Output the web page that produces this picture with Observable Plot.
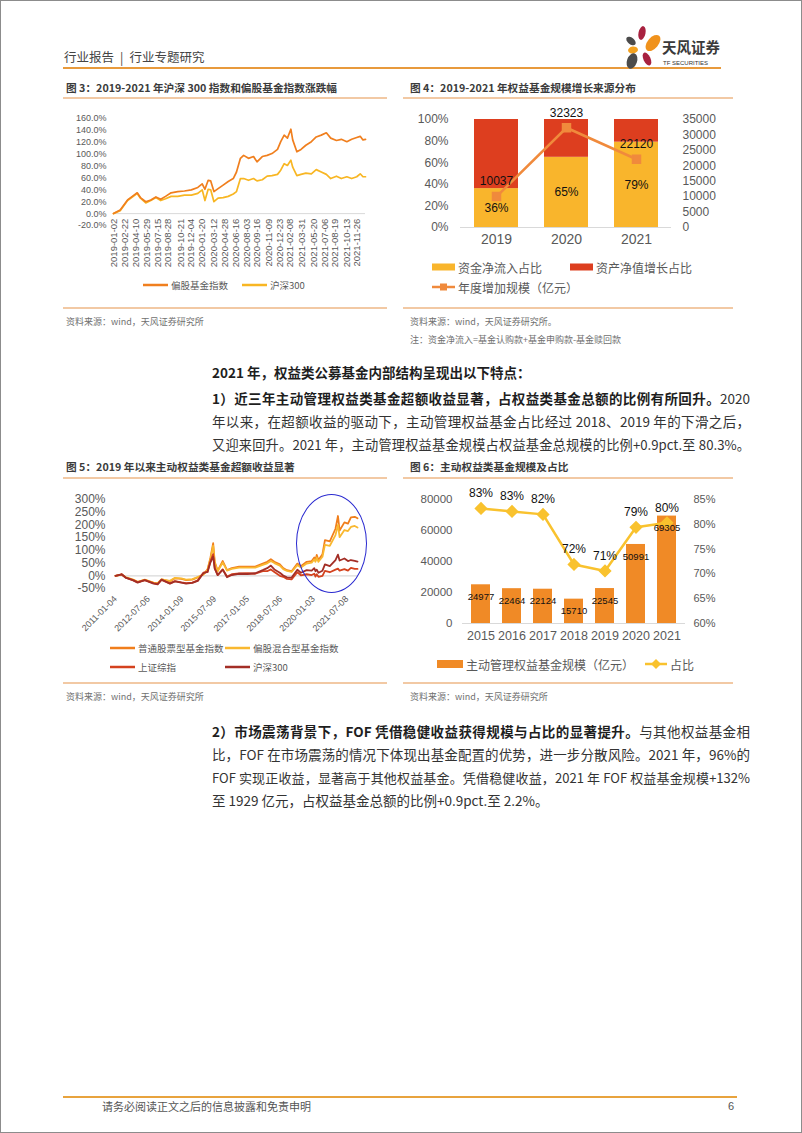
<!DOCTYPE html>
<html><head><meta charset="utf-8">
<script src="https://cdn.jsdelivr.net/npm/d3@7"></script>
<script src="https://cdn.jsdelivr.net/npm/@observablehq/plot@0.6"></script>
<style>
body{margin:0;background:#fff;}
#page{position:relative;width:802px;height:1133px;overflow:hidden;font-family:"Noto Sans CJK SC","Noto Sans",sans-serif;color:#333;background:#fff;}
#frame{position:absolute;left:0;top:0;width:802px;height:1133px;box-sizing:border-box;border:1px solid #8c8c8c;pointer-events:none;}
.abs{position:absolute;white-space:nowrap;}
.leg{position:absolute;display:flex;align-items:center;white-space:nowrap;color:#595959;height:20px;}
.bl{position:absolute;left:212px;width:538px;font-size:13.5px;line-height:23px;white-space:nowrap;color:#333;text-align:left;font-family:"Liberation Sans Narrow","Noto Sans CJK SC",sans-serif;}
.bl.j{text-align:justify;text-align-last:justify;}
.bl b{font-weight:700;color:#1e1e1e;}
.chart{position:absolute;}
.chart svg{overflow:visible;}
</style></head>
<body><div id="page"><div id="frame"></div></div>
<script>
// ---------------- DATA ----------------
// Fig 3: 2019-2021 CSI300 vs equity fund index cumulative change (%)
const c3Dates = ["2019-01-02","2019-01-31","2019-03-04","2019-04-01","2019-04-15","2019-04-29","2019-05-22","2019-06-13","2019-07-05","2019-07-26","2019-08-16","2019-09-09","2019-10-08","2019-11-06","2019-12-06","2020-01-03","2020-01-22","2020-02-03","2020-02-17","2020-02-28","2020-03-13","2020-03-31","2020-04-22","2020-05-14","2020-06-05","2020-06-19","2020-07-06","2020-07-20","2020-08-10","2020-09-01","2020-09-16","2020-10-09","2020-10-30","2020-11-20","2020-12-14","2020-12-28","2021-01-12","2021-01-26","2021-02-10","2021-02-18","2021-03-08","2021-03-26","2021-04-16","2021-05-10","2021-05-31","2021-06-22","2021-07-14","2021-08-02","2021-08-27","2021-09-17","2021-10-11","2021-11-01","2021-11-23","2021-12-08","2021-12-20","2021-12-31"];
const c3Fund = [0,6,23,31,35,27,20,23,28,24,29,35,37,38,40,44,50,41,56,55,37,42,48,54,59,70,93,98,93,96,87,96,98,101,108,121,132,127,142,124,104,108,115,121,129,132,136,127,123,125,121,125,128,130,124,125];
const c3HS300 = [0,5,22,30,34,26,18,22,27,22,25,29,29,31,31,34,40,22,41,40,20,26,27,29,33,37,59,59,56,59,55,57,63,64,66,73,84,81,90,78,64,66,68,67,74,70,66,59,63,59,62,59,62,67,62,62];
const c3TickLabels = ["2019-01-02","2019-02-22","2019-04-10","2019-05-29","2019-07-15","2019-08-28","2019-10-21","2019-12-04","2020-01-20","2020-03-12","2020-04-28","2020-06-16","2020-08-03","2020-09-16","2020-11-09","2020-12-23","2021-02-08","2021-03-31","2021-05-20","2021-07-06","2021-08-19","2021-10-13","2021-11-26"];
const c3YTicks = [-20,0,20,40,60,80,100,120,140,160];

// Fig 4: sources of equity fund growth
const c4Years = ["2019","2020","2021"];
const c4InflowPct = [36,65,79];
const c4NavPct = [64,35,21];
const c4Growth = [10037,32323,22120];
const c4LeftTicks = [0,20,40,60,80,100];
const c4RightTicks = [0,5000,10000,15000,20000,25000,30000,35000];
const c4RightMax = 35000;

// Fig 5: excess returns since 2011 (%)
const c5Dates = ["2011-01-04","2011-04-15","2011-06-20","2011-10-24","2012-01-06","2012-05-04","2012-09-26","2012-12-03","2013-02-06","2013-06-25","2013-09-16","2013-12-31","2014-03-20","2014-07-01","2014-09-30","2014-12-31","2015-03-10","2015-04-27","2015-06-12","2015-07-08","2015-08-26","2015-11-18","2016-01-28","2016-04-15","2016-08-15","2016-12-30","2017-05-10","2017-09-11","2017-11-24","2018-01-24","2018-03-23","2018-06-22","2018-08-17","2018-10-18","2019-01-03","2019-04-08","2019-06-06","2019-09-10","2019-12-02","2020-01-14","2020-02-03","2020-02-24","2020-03-23","2020-05-29","2020-07-09","2020-09-28","2020-12-31","2021-02-10","2021-03-09","2021-05-28","2021-07-26","2021-09-13","2021-11-15","2021-12-31"];
const c5Stock = [0,5,-6,-16,-25,-16,-28,-30,-14,-22,-10,-12,-17,-15,-6,5,25,70,128,55,20,58,22,30,36,36,36,48,55,65,55,45,30,22,18,48,38,55,58,72,62,82,62,85,140,135,185,235,178,210,205,230,232,226];
const c5Mixed = [0,5,-5,-15,-24,-15,-27,-29,-14,-20,-8,-10,-15,-13,-5,5,22,65,118,50,18,52,20,27,32,32,32,43,49,58,50,40,26,19,15,42,33,48,52,64,55,72,55,75,122,118,160,200,152,180,176,192,196,190];
const c5SSE = [0,6,-7,-17,-25,-17,-29,-32,-16,-30,-21,-26,-29,-27,-18,12,15,57,85,30,3,25,-3,6,9,10,8,18,18,25,15,0,-4,-12,-14,14,2,6,3,8,-3,6,-4,0,19,14,24,28,20,26,20,31,27,27];
const c5HS300 = [0,6,-7,-18,-27,-17,-31,-34,-15,-31,-22,-27,-31,-28,-20,10,15,52,75,28,3,24,-6,3,8,7,10,22,30,40,25,12,1,-6,-7,24,12,22,20,30,18,24,12,20,45,38,62,83,60,68,58,62,59,56];
const c5Ticks = ["2011-01-04","2012-07-06","2014-01-09","2015-07-09","2017-01-05","2018-07-06","2020-01-03","2021-07-08"];
const c5YTicks = [-50,0,50,100,150,200,250,300];

// Fig 6: active equity fund size and share
const c6Years = ["2015","2016","2017","2018","2019","2020","2021"];
const c6Size = [24977,22464,22124,15710,22545,50991,69305];
const c6Share = [83.2,82.6,82.0,71.9,70.6,79.4,80.3];
const c6ShareLabels = ["83%","83%","82%","72%","71%","79%","80%"];
const c6LeftTicks = [0,20000,40000,60000,80000];
const c6RightTicks = [60,65,70,75,80,85];

// ---------------- helpers ----------------
const page = document.getElementById("page");
const NUM = "'Liberation Sans', Arial, sans-serif";
function el(html, left, top, style) {
  const d = document.createElement("div");
  d.className = "abs";
  d.style.cssText = `left:${left}px;top:${top}px;` + (style || "");
  d.innerHTML = html; page.appendChild(d); return d;
}
function textAt(html, x, yc, size, style) {
  return el(html, x, yc - size * 0.75, `font-size:${size}px;line-height:${size * 1.5}px;` + (style || ""));
}
function hline(x1, x2, y, color, w) {
  const d = document.createElement("div");
  d.style.cssText = `position:absolute;left:${x1}px;top:${y - w / 2}px;width:${x2 - x1}px;height:${w}px;background:${color};`;
  page.appendChild(d);
}
function mount(node, left, top) {
  const d = document.createElement("div");
  d.className = "chart"; d.style.left = left + "px"; d.style.top = top + "px";
  d.appendChild(node); page.appendChild(d);
}
function legend(x, yc, sw, text, size) {
  const d = document.createElement("div");
  d.className = "leg";
  d.style.cssText = `left:${x}px;top:${yc - 10}px;font-size:${size}px;`;
  d.innerHTML = sw + `<span style="margin-left:3px">${text}</span>`;
  page.appendChild(d);
}
const lineSw = (c, w, sw) => `<svg width="${w}" height="10"><line x1="0" x2="${w}" y1="5" y2="5" stroke="${c}" stroke-width="${sw}"/></svg>`;
const rectSw = (c, w, h) => `<svg width="${w}" height="10"><rect x="0" y="${5 - h / 2}" width="${w}" height="${h}" fill="${c}"/></svg>`;

// ---------------- header / footer ----------------
textAt('行业报告<span style="margin:0 6px">|</span>行业专题研究', 64, 57, 12.5, "color:#444;");
hline(63, 721, 68, "#E89A3C", 2);
el(`<svg width="42" height="48" viewBox="0 0 42 48">
<ellipse cx="22" cy="10" rx="3.5" ry="7" transform="rotate(12 22 10)" fill="#A8213F"/>
<ellipse cx="11" cy="18" rx="3.3" ry="5.5" transform="rotate(-50 11 18)" fill="#4B4B4B"/>
<ellipse cx="33" cy="20" rx="5.5" ry="9.5" transform="rotate(40 33 20)" fill="#F0921C"/>
<ellipse cx="13" cy="27" rx="5" ry="3.5" transform="rotate(-10 13 27)" fill="#F3A11F"/>
<ellipse cx="12" cy="38" rx="5" ry="8" transform="rotate(20 12 38)" fill="#4B4B4B"/>
<ellipse cx="27" cy="36" rx="3.5" ry="7" transform="rotate(-25 27 36)" fill="#A8213F"/>
</svg>`, 620, 23);
textAt("天风证券", 662, 47, 14.5, "font-weight:700;color:#3a3a3a;");
textAt("TF SECURITIES", 663, 63, 6, "color:#333;font-family:" + NUM + ";");
hline(63, 737, 1097, "#E8A33D", 2);
textAt("请务必阅读正文之后的信息披露和免责申明", 102, 1106, 11, "color:#555;");
textAt("6", 728, 1106, 11, "color:#555;font-family:" + NUM + ";");

// section frames
const SEP = "#F2C9A4";
const TITLE = "font-weight:700;color:#3b3b3b;";
textAt("图 3：2019-2021 年沪深 300 指数和偏股基金指数涨跌幅", 66, 88, 10.7, TITLE);
textAt("图 4：2019-2021 年权益基金规模增长来源分布", 410, 88, 10.7, TITLE);
hline(63, 387, 98, SEP, 1.3); hline(403, 733, 98, SEP, 1.3);
hline(63, 387, 308, SEP, 1.3); hline(403, 733, 308, SEP, 1.3);
textAt("资料来源：wind，天风证券研究所", 66, 322, 9, "color:#707070;");
textAt("资料来源：wind，天风证券研究所。", 410, 322, 9, "color:#707070;");
textAt("注：资金净流入=基金认购款+基金申购款-基金赎回款", 410, 340, 9, "color:#707070;");

textAt("图 5：2019 年以来主动权益类基金超额收益显著", 66, 467, 10.7, TITLE);
textAt("图 6：主动权益类基金规模及占比", 410, 467, 10.7, TITLE);
hline(63, 387, 478, SEP, 1.3); hline(403, 733, 478, SEP, 1.3);
hline(63, 387, 683, SEP, 1.3); hline(403, 733, 683, SEP, 1.3);
textAt("资料来源：wind，天风证券研究所", 66, 697, 9, "color:#707070;");
textAt("资料来源：wind，天风证券研究所", 410, 697, 9, "color:#707070;");

// body text: measure natural width first, shrink to fit, then justify
function bodyLine(html, yc, just) {
  const d = document.createElement("div");
  d.className = "bl";
  d.style.top = (yc - 11.5) + "px";
  d.innerHTML = `<span class="m">${html}</span>`;
  page.appendChild(d);
  const span = d.querySelector(".m");
  let fs = 13.5;
  while (span.getBoundingClientRect().width > 534 && fs > 10) { fs -= 0.1; d.style.fontSize = fs + "px"; }
  if (just) d.className = "bl j";
}
bodyLine("<b>2021 年，权益类公募基金内部结构呈现出以下特点：</b>", 372, false);
bodyLine("<b>1）近三年主动管理权益类基金超额收益显著，占权益类基金总额的比例有所回升。</b>2020", 398, true);
bodyLine("年以来，在超额收益的驱动下，主动管理权益基金占比经过 2018、2019 年的下滑之后，", 421, true);
bodyLine("又迎来回升。2021 年，主动管理权益基金规模占权益基金总规模的比例+0.9pct.至 80.3%。", 444, true);
bodyLine("<b>2）市场震荡背景下，FOF 凭借稳健收益获得规模与占比的显著提升。</b>与其他权益基金相", 731, true);
bodyLine("比，FOF 在市场震荡的情况下体现出基金配置的优势，进一步分散风险。2021 年，96%的", 754, true);
bodyLine("FOF 实现正收益，显著高于其他权益基金。凭借稳健收益，2021 年 FOF 权益基金规模+132%", 777, true);
bodyLine("至 1929 亿元，占权益基金总额的比例+0.9pct.至 2.2%。", 800, false);

// ---------------- Chart 3 ----------------
const c3Data = c3Dates.map((d, i) => ({date: new Date(d), fund: c3Fund[i], hs: c3HS300[i]}));
mount(Plot.plot({
  width: 325, height: 165, marginTop: 10, marginBottom: 48, marginLeft: 50, marginRight: 23,
  style: {fontFamily: NUM, fontSize: "9px", color: "#595959", background: "transparent"},
  x: {type: "utc", domain: [new Date("2019-01-02"), new Date("2021-12-31")], axis: null},
  y: {domain: [-20, 160]},
  marks: [
    Plot.ruleY([0], {stroke: "#D9D9D9"}),
    Plot.axisY(c3YTicks, {tickSize: 0, tickPadding: 7, tickFormat: d => d.toFixed(1) + "%", label: null, fontSize: 9}),
    Plot.lineY(c3Data, {x: "date", y: "hs", stroke: "#F8B623", strokeWidth: 1.7}),
    Plot.lineY(c3Data, {x: "date", y: "fund", stroke: "#F07F1E", strokeWidth: 1.7}),
    Plot.text(c3TickLabels, {x: d => new Date(d), y: () => 0, text: d => d, rotate: -90, textAnchor: "end", dy: 5, fontSize: 9.5, fill: "#595959"})
  ]
}), 63, 108);
legend(143, 285, lineSw("#F07F1E", 25, 2.5), "偏股基金指数", 9.5);
legend(242, 285, lineSw("#F8B623", 25, 2.5), "沪深300", 9.5);

// ---------------- Chart 4 ----------------
const c4Bars = c4Years.flatMap((y, i) => [
  {year: y, key: "资金净流入占比", v: c4InflowPct[i]},
  {year: y, key: "资产净值增长占比", v: c4NavPct[i]}
]);
const c4Line = c4Years.map((y, i) => ({year: y, g: c4Growth[i], pct: c4InflowPct[i]}));
const c4y = d => d.g / c4RightMax * 100;
mount(Plot.plot({
  width: 340, height: 144, marginTop: 11, marginBottom: 25, marginLeft: 60, marginRight: 69,
  style: {fontFamily: NUM, fontSize: "12px", color: "#595959", background: "transparent"},
  x: {type: "band", domain: c4Years, paddingInner: 0.376, paddingOuter: 0.188},
  y: {domain: [0, 100]},
  color: {domain: ["资金净流入占比", "资产净值增长占比"], range: ["#F9B52C", "#DD3E1F"]},
  marks: [
    Plot.barY(c4Bars, {x: "year", y: "v", fill: "key"}),
    Plot.ruleY([0], {stroke: "#D9D9D9"}),
    Plot.axisY(c4LeftTicks, {tickSize: 0, tickPadding: 12, tickFormat: d => d + "%", label: null, fontSize: 12}),
    Plot.axisY(c4RightTicks.map(v => v / c4RightMax * 100), {anchor: "right", tickSize: 0, tickPadding: 11, tickFormat: d => String(Math.round(d * c4RightMax / 100)), label: null, fontSize: 12}),
    Plot.axisX({tickSize: 0, tickPadding: 7, label: null, fontSize: 14}),
    Plot.line(c4Line, {x: "year", y: c4y, stroke: "#F08A3C", strokeWidth: 2.5}),
    Plot.dot(c4Line, {x: "year", y: c4y, symbol: "square", r: 4.5, fill: "#F08A3C", stroke: "#F08A3C"}),
    Plot.text(c4Line, {x: "year", y: c4y, text: d => String(d.g), dy: -15, fontSize: 12, fill: "#111"}),
    Plot.text(c4Line, {x: "year", y: d => d.pct / 2, text: d => d.pct + "%", fontSize: 12, fill: "#111"})
  ]
}), 400, 108);
legend(432, 267, rectSw("#F9B52C", 23, 7), "资金净流入占比", 12);
legend(570, 267, rectSw("#DD3E1F", 23, 7), "资产净值增长占比", 12);
legend(432, 287, `<svg width="23" height="10"><line x1="0" x2="23" y1="5" y2="5" stroke="#F08A3C" stroke-width="2.5"/><rect x="8" y="1.5" width="7" height="7" fill="#F08A3C"/></svg>`, "年度增加规模（亿元）", 12);

// ---------------- Chart 5 ----------------
const c5Data = c5Dates.map((d, i) => ({date: new Date(d), stock: c5Stock[i], mixed: c5Mixed[i], sse: c5SSE[i], hs: c5HS300[i]}));
mount(Plot.plot({
  width: 325, height: 152, marginTop: 11, marginBottom: 52, marginLeft: 52, marginRight: 31,
  style: {fontFamily: NUM, fontSize: "12px", color: "#595959", background: "transparent"},
  x: {type: "utc", domain: [new Date("2011-01-04"), new Date("2021-12-31")]},
  y: {domain: [-50, 300]},
  marks: [
    Plot.ruleY([0], {stroke: "#D9D9D9", strokeWidth: 1.2}),
    Plot.axisY(c5YTicks, {tickSize: 0, tickPadding: 10, tickFormat: d => d + "%", label: null, fontSize: 12}),
    Plot.axisX(c5Ticks.map(d => new Date(d)), {tickSize: 0, tickPadding: 9, tickRotate: -45, tickFormat: d3.utcFormat("%Y-%m-%d"), label: null, fontSize: 9}),
    Plot.lineY(c5Data, {x: "date", y: "stock", stroke: "#F07E1C", strokeWidth: 1.8}),
    Plot.lineY(c5Data, {x: "date", y: "mixed", stroke: "#F9B830", strokeWidth: 1.8}),
    Plot.lineY(c5Data, {x: "date", y: "sse", stroke: "#D4421E", strokeWidth: 1.8}),
    Plot.lineY(c5Data, {x: "date", y: "hs", stroke: "#A32E26", strokeWidth: 1.8})
  ]
}), 63, 488);
el("", 295.5, 493.5, "width:71px;height:99px;box-sizing:border-box;border:1.3px solid #2A2AD0;border-radius:50%;");
legend(110, 648, lineSw("#F07E1C", 25, 2.5), "普通股票型基金指数", 9.5);
legend(225, 648, lineSw("#F9B830", 25, 2.5), "偏股混合型基金指数", 9.5);
legend(110, 667, lineSw("#D4421E", 25, 2.5), "上证综指", 9.5);
legend(225, 667, lineSw("#A32E26", 25, 2.5), "沪深300", 9.5);

// ---------------- Chart 6 ----------------
const c6 = c6Years.map((y, i) => ({year: y, size: c6Size[i], share: c6Share[i], lab: c6ShareLabels[i]}));
const c6y = d => (d.share - 60) / 25 * 80000;
mount(Plot.plot({
  width: 340, height: 160, marginTop: 11, marginBottom: 25, marginLeft: 62, marginRight: 55,
  style: {fontFamily: NUM, fontSize: "12px", color: "#595959", background: "transparent"},
  x: {type: "band", domain: c6Years, paddingInner: 0.373, paddingOuter: 0.19},
  y: {domain: [0, 80000]},
  marks: [
    Plot.barY(c6, {x: "year", y: "size", fill: "#F08A26"}),
    Plot.ruleY([0], {stroke: "#D9D9D9"}),
    Plot.axisY(c6LeftTicks, {tickSize: 0, tickPadding: 10, tickFormat: d => String(d), label: null, fontSize: 11.5}),
    Plot.axisY(c6RightTicks.map(p => (p - 60) / 25 * 80000), {anchor: "right", tickSize: 0, tickPadding: 8, tickFormat: d => Math.round(d / 80000 * 25 + 60) + "%", label: null, fontSize: 11}),
    Plot.axisX({tickSize: 0, tickPadding: 8, label: null, fontSize: 12.5}),
    Plot.line(c6, {x: "year", y: c6y, stroke: "#F9C22E", strokeWidth: 2.5}),
    Plot.dot(c6, {x: "year", y: c6y, symbol: "diamond2", r: 5, fill: "#F9C22E", stroke: "#F9C22E"}),
    Plot.text(c6, {x: "year", y: "size", text: d => String(d.size), dy: 12, fontSize: 9.5, fill: "#111"}),
    Plot.text(c6, {x: "year", y: c6y, text: "lab", dy: -15, fontSize: 12, fill: "#111"})
  ]
}), 400, 488);
legend(437, 664, rectSw("#F08A26", 26, 8), "主动管理权益基金规模（亿元）", 12);
legend(645, 664, `<svg width="22" height="12"><line x1="0" x2="22" y1="6" y2="6" stroke="#F9C22E" stroke-width="2.5"/><path d="M11 1 L16 6 L11 11 L6 6 Z" fill="#F9C22E"/></svg>`, "占比", 12);
</script>
</body></html>
